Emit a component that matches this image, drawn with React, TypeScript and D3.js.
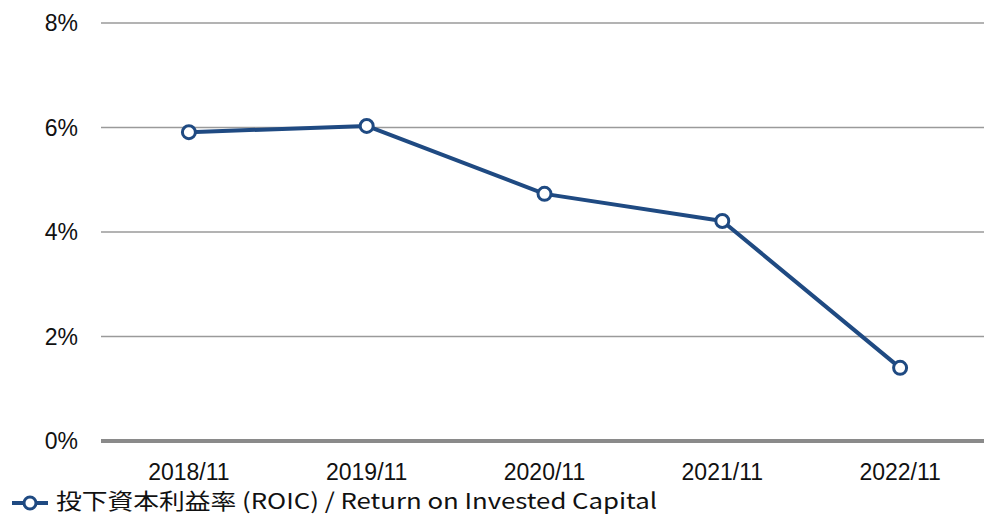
import React from 'react';
import * as d3 from 'd3';

const categories = ['2018/11', '2019/11', '2020/11', '2021/11', '2022/11'];
const roic = [5.91, 6.03, 4.73, 4.21, 1.4];
const yTicks = [0, 2, 4, 6, 8];
const seriesName = '投下資本利益率 (ROIC) / Return on Invested Capital';

const W = 984;
const H = 515;
const lineColor = '#1f4a82';

export default function App() {
  const x = d3.scaleBand().domain(categories).range([100, 989]);
  const y = d3.scaleLinear().domain([0, 8]).range([441, 23]);
  const cx = (c: string) => (x(c) ?? 0) + x.bandwidth() / 2;

  const pts = categories.map((c, i) => [cx(c), y(roic[i])] as [number, number]);
  const line = d3.line()(pts) ?? '';

  return (
    <svg
      width={W}
      height={H}
      style={{ position: 'absolute', left: 0, top: 0, background: '#fff' }}
      fontFamily="'Liberation Sans', Arial, sans-serif"
    >
      {yTicks.map((t) => (
        <g key={t}>
          {t > 0 && (
            <line x1={101} x2={W} y1={y(t)} y2={y(t)} stroke="#9a9a9a" strokeWidth={1.5} />
          )}
          <text x={78} y={y(t)} dy="0.36em" textAnchor="end" fontSize={23} fill="#111">
            {t}%
          </text>
        </g>
      ))}
      <line x1={101} x2={W} y1={y(0)} y2={y(0)} stroke="#8a8a8a" strokeWidth={4} />
      {categories.map((c) => (
        <text key={c} x={cx(c)} y={480} textAnchor="middle" fontSize={23} fill="#111">
          {c}
        </text>
      ))}
      <path d={line} fill="none" stroke={lineColor} strokeWidth={4} strokeLinejoin="round" />
      {pts.map(([px, py], i) => (
        <circle key={i} cx={px} cy={py} r={6.5} fill="#fff" stroke={lineColor} strokeWidth={3} />
      ))}
      <g>
        <line x1={12} x2={48} y1={503} y2={503} stroke={lineColor} strokeWidth={4} />
        <circle cx={30} cy={503} r={6} fill="#fff" stroke={lineColor} strokeWidth={3} />
        <text
          x={56}
          y={509}
          fontSize={22}
          fill="#111"
          fontFamily="'Noto Sans CJK JP', sans-serif"
          textLength={601}
          lengthAdjust="spacingAndGlyphs"
        >
          {seriesName}
        </text>
      </g>
    </svg>
  );
}
